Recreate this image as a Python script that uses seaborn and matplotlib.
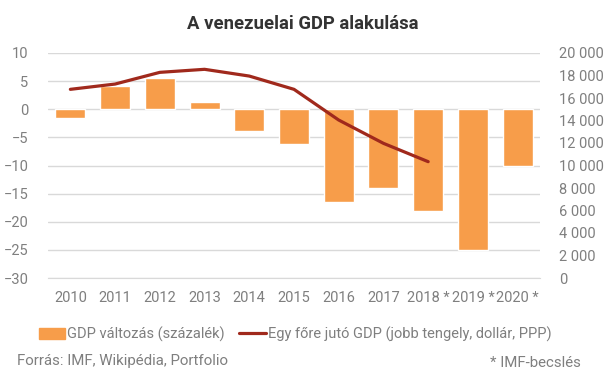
import numpy as np
import pandas as pd
import matplotlib.pyplot as plt
import seaborn as sns
from matplotlib.patches import Patch
from matplotlib.lines import Line2D
from matplotlib.ticker import FuncFormatter, MultipleLocator

years = ['2010', '2011', '2012', '2013', '2014', '2015', '2016', '2017',
         '2018 *', '2019 *', '2020 *']
gdp_change = [-1.5, 4.2, 5.6, 1.3, -3.9, -6.2, -16.5, -14.0, -18.0, -25.0, -10.0]
gdp_per_capita = [16770, 17240, 18280, 18550, 17950, 16770, 14040, 11970, 10340]

bar_color = '#F79D4A'
line_color = '#A0291C'
grid_color = '#D9D9D9'
text_color = '#7F7F7F'

sns.set_style('white')
plt.rcParams['font.family'] = ['Roboto', 'DejaVu Sans']

df = pd.DataFrame({'year': years, 'change': gdp_change})
df_pc = pd.DataFrame({'pos': np.arange(len(gdp_per_capita)), 'gdp': gdp_per_capita})

fig = plt.figure(figsize=(6.05, 3.78), dpi=100)
ax = fig.add_axes([48 / 605, 1 - 278 / 378, 492 / 605, 225 / 378])

sns.barplot(data=df, x='year', y='change', color=bar_color, saturation=1,
            width=0.67, ax=ax, zorder=2)
ax.set_ylim(-30, 10)
ax.yaxis.set_major_locator(MultipleLocator(5))
ax.grid(axis='y', color=grid_color, linewidth=1, zorder=0)
ax.set_axisbelow(True)
ax.set_xlim(-0.5, len(years) - 0.5)
ax.set_xlabel('')
ax.set_ylabel('')
ax.set_xticks(np.arange(-0.5, len(years)), minor=True)
ax.tick_params(axis='x', which='minor', length=5, color=grid_color, width=1)
ax.tick_params(axis='x', which='major', length=0, pad=9, labelsize=10.5, labelcolor=text_color)
ax.tick_params(axis='y', length=0, pad=14, labelsize=10.5, labelcolor=text_color)
for s in ['top', 'right', 'left']:
    ax.spines[s].set_visible(False)
ax.spines['bottom'].set_color(grid_color)

# jobb tengely: egy főre jutó GDP
ax2 = ax.twinx()
sns.lineplot(data=df_pc, x='pos', y='gdp', color=line_color, linewidth=2.3, ax=ax2)
ax2.set_ylim(0, 20000)
ax2.yaxis.set_major_locator(MultipleLocator(2000))
ax2.yaxis.set_major_formatter(FuncFormatter(lambda v, p: f'{int(v):,}'.replace(',', ' ')))
ax2.tick_params(axis='y', length=0, pad=14, labelsize=10.5, labelcolor=text_color)
ax2.set_ylabel('')
ax2.set_xlabel('')
ax2.grid(False)
for s in ax2.spines.values():
    s.set_visible(False)
ax2.set_xlim(-0.5, len(years) - 0.5)

fig.text(0.5, 1 - 24 / 378, 'A venezuelai GDP alakulása', ha='center', va='center',
         fontsize=13.3, fontweight='bold', color='#333333')

handles = [Patch(color=bar_color, label='GDP változás (százalék)'),
           Line2D([], [], color=line_color, linewidth=2.3,
                  label='Egy főre jutó GDP (jobb tengely, dollár, PPP)')]
leg = fig.legend(handles=handles, loc='center', bbox_to_anchor=(295 / 605, 1 - 334 / 378),
                 ncol=2, frameon=False, fontsize=10.5, handlelength=1.8, handleheight=0.8,
                 handletextpad=0.15, columnspacing=1.0)
for t in leg.get_texts():
    t.set_color(text_color)

fig.text(17 / 605, 1 - 361 / 378, 'Forrás: IMF, Wikipédia, Portfolio', ha='left', va='center',
         fontsize=10.8, color=text_color)
fig.text(581 / 605, 1 - 363 / 378, '* IMF-becslés', ha='right', va='center',
         fontsize=10.8, color=text_color)

fig.savefig('out.png', dpi=100)
